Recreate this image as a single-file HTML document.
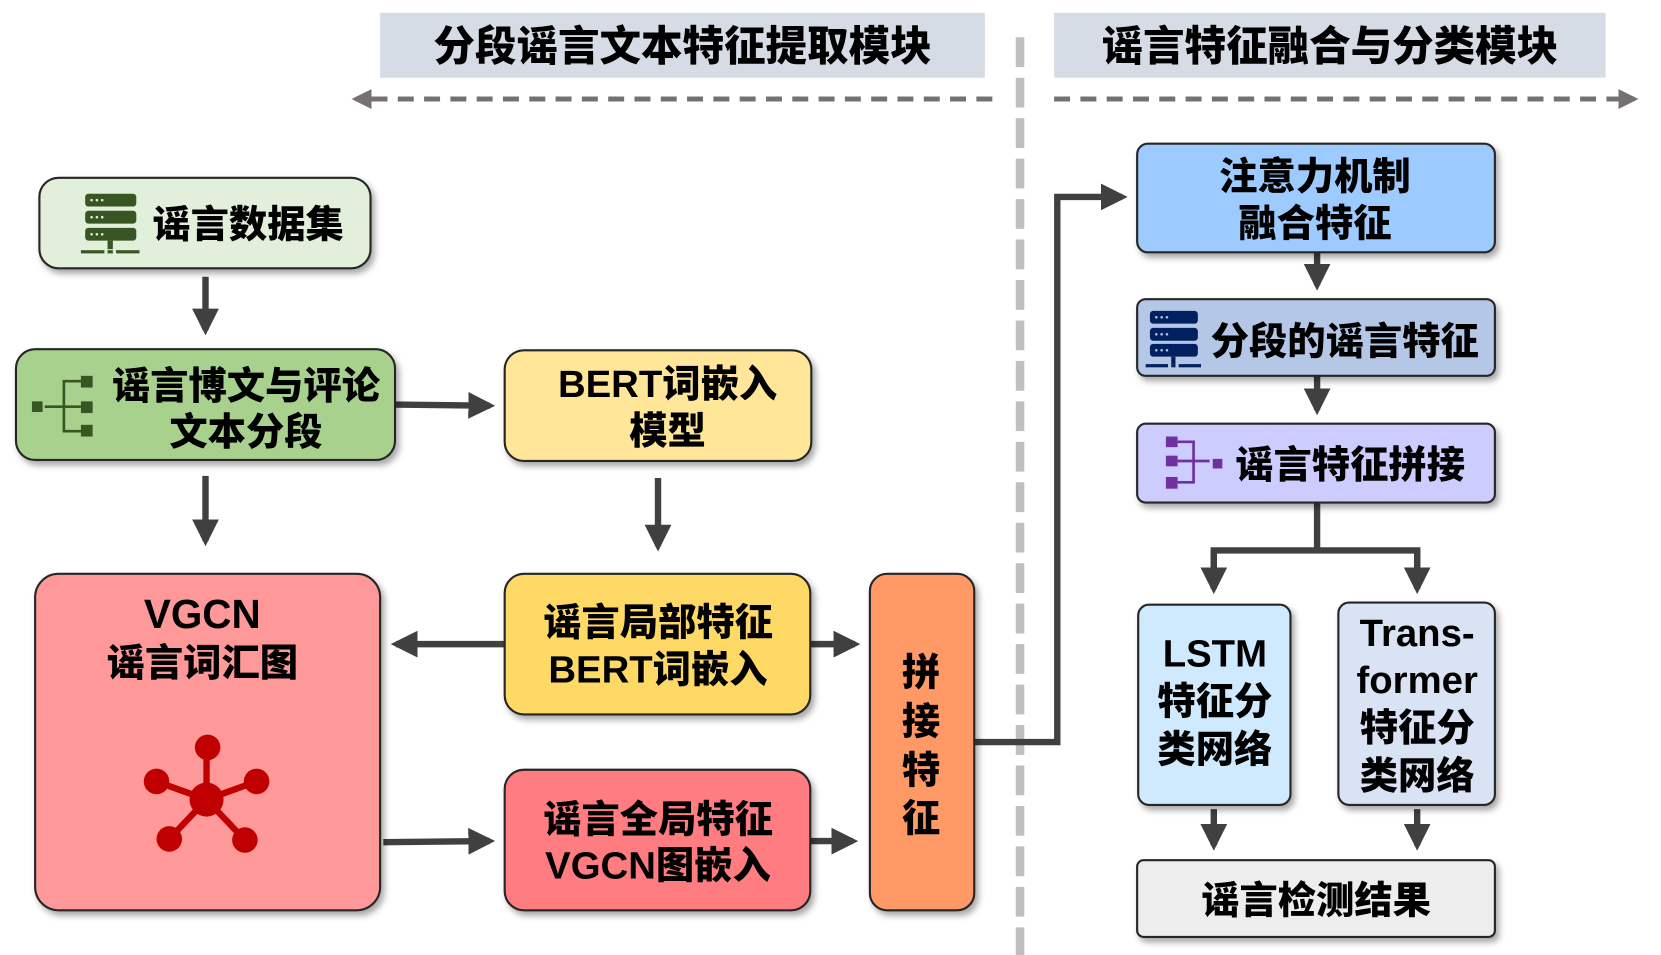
<!DOCTYPE html>
<html><head><meta charset="utf-8">
<style>
html,body{margin:0;padding:0;background:#fff;}
svg{display:block;}
text{font-family:"Liberation Sans","Noto Sans CJK SC",sans-serif;font-weight:900;fill:#000;}
</style></head>
<body>
<svg width="1661" height="955" viewBox="0 0 1560 897" preserveAspectRatio="none" xmlns="http://www.w3.org/2000/svg">
<defs>
<filter id="sh" x="-10%" y="-10%" width="130%" height="130%">
<feDropShadow dx="3" dy="4" stdDeviation="3" flood-color="#000" flood-opacity="0.35"/>
</filter>
<marker id="ah" viewBox="0 0 10 10" refX="8" refY="5" markerWidth="4.2" markerHeight="4.2" orient="auto" markerUnits="strokeWidth">
<path d="M0,0 L10,5 L0,10 z" fill="#404040"/>
</marker>
<marker id="ahg" viewBox="0 0 10 10" refX="8" refY="5" markerWidth="4" markerHeight="4" orient="auto" markerUnits="strokeWidth">
<path d="M0,0 L10,5 L0,10 z" fill="#767171"/>
</marker>
</defs>

<rect x="357" y="12" width="568" height="61" fill="#d6dce5"/>
<text x="641" y="57" font-size="39" text-anchor="middle">分段谣言文本特征提取模块</text>
<rect x="990" y="12" width="518" height="61" fill="#d6dce5"/>
<text x="1249" y="57" font-size="39" text-anchor="middle">谣言特征融合与分类模块</text>

<line x1="932" y1="93" x2="334" y2="93" stroke="#767171" stroke-width="4.7" stroke-dasharray="15 9.7" marker-end="url(#ahg)"/>
<line x1="990" y1="93" x2="1535" y2="93" stroke="#767171" stroke-width="4.7" stroke-dasharray="15 9.7" marker-end="url(#ahg)"/>
<line x1="958" y1="35" x2="958" y2="897" stroke="#bfbfbf" stroke-width="8" stroke-dasharray="28 10"/>

<g stroke="#404040" stroke-width="6" fill="none">
<line x1="193" y1="260" x2="193" y2="310" marker-end="url(#ah)"/>
<line x1="371" y1="380" x2="460" y2="381" marker-end="url(#ah)"/>
<line x1="193" y1="447" x2="193" y2="508" marker-end="url(#ah)"/>
<line x1="618" y1="449" x2="618" y2="513" marker-end="url(#ah)"/>
<line x1="474" y1="605" x2="372" y2="605" marker-end="url(#ah)"/>
<line x1="761" y1="605" x2="803" y2="605" marker-end="url(#ah)"/>
<line x1="360" y1="791" x2="460" y2="790" marker-end="url(#ah)"/>
<line x1="761" y1="790" x2="801" y2="790" marker-end="url(#ah)"/>
<polyline points="915,697 993,697 993,185 1054,185" marker-end="url(#ah)"/>
<line x1="1237" y1="237" x2="1237" y2="268" marker-end="url(#ah)"/>
<line x1="1237" y1="353" x2="1237" y2="385" marker-end="url(#ah)"/>
<polyline points="1237,472 1237,517"/>
<polyline points="1140,553 1140,517 1331,517 1331,553"/>
<line x1="1140" y1="517" x2="1140" y2="553" marker-end="url(#ah)"/>
<line x1="1331" y1="517" x2="1331" y2="553" marker-end="url(#ah)"/>
<line x1="1140" y1="760" x2="1140" y2="794" marker-end="url(#ah)"/>
<line x1="1331" y1="760" x2="1331" y2="794" marker-end="url(#ah)"/>
</g>

<g stroke="#262626" stroke-width="2" filter="url(#sh)">
<rect x="37" y="167" width="311" height="85" rx="18" fill="#e2efda"/>
<rect x="15" y="328" width="356" height="104" rx="18" fill="#a9d18e"/>
<rect x="474" y="329" width="288" height="104" rx="18" fill="#ffe699"/>
<rect x="33" y="539" width="324" height="316" rx="22" fill="#ff9999"/>
<rect x="474" y="539" width="287" height="132" rx="18" fill="#ffd966"/>
<rect x="474" y="723" width="287" height="132" rx="18" fill="#ff7c80"/>
<rect x="817" y="539" width="98" height="316" rx="16" fill="#ff9966"/>
<rect x="1068" y="135" width="336" height="102" rx="10" fill="#9dcbff"/>
<rect x="1068" y="281" width="336" height="72" rx="8" fill="#b4c7e7"/>
<rect x="1068" y="398" width="336" height="74" rx="8" fill="#ccccff"/>
<rect x="1069" y="568" width="143" height="188" rx="10" fill="#cfeaff"/>
<rect x="1257" y="566" width="147" height="190" rx="10" fill="#dae3f3"/>
<rect x="1068" y="808" width="336" height="72" rx="6" fill="#ededed"/>
</g>

<g fill="#375623">
<rect x="80" y="182" width="48" height="12" rx="3"/>
<rect x="80" y="198" width="48" height="12" rx="3"/>
<rect x="80" y="214" width="48" height="12" rx="3"/>
<rect x="101" y="226" width="5" height="8"/>
<rect x="76" y="235" width="22" height="3"/>
<rect x="101" y="235" width="5" height="3"/>
<rect x="109" y="235" width="22" height="3"/>
</g>
<g fill="#e2efda"><circle cx="86" cy="188" r="1.2"/><circle cx="91" cy="188" r="1.2"/><circle cx="96" cy="188" r="1.2"/>
<circle cx="86" cy="204" r="1.2"/><circle cx="91" cy="204" r="1.2"/><circle cx="96" cy="204" r="1.2"/>
<circle cx="86" cy="220" r="1.2"/><circle cx="91" cy="220" r="1.2"/><circle cx="96" cy="220" r="1.2"/></g>
<text x="233" y="223" font-size="36" text-anchor="middle">谣言数据集</text>

<g fill="#375623">
<rect x="30" y="377" width="10" height="10"/>
<rect x="76" y="353" width="11" height="11"/>
<rect x="76" y="377" width="11" height="11"/>
<rect x="76" y="399" width="11" height="11"/>
</g>
<g stroke="#375623" stroke-width="2.5" fill="none">
<polyline points="76,358 60,358 60,405 76,405"/>
<line x1="42" y1="382" x2="76" y2="382"/>
</g>
<text x="231" y="375" font-size="36" text-anchor="middle">谣言博文与评论</text>
<text x="231" y="418" font-size="36" text-anchor="middle">文本分段</text>

<text x="627" y="373" font-size="36" text-anchor="middle">BERT词嵌入</text>
<text x="627" y="417" font-size="36" text-anchor="middle">模型</text>

<text x="190" y="590" font-size="38" text-anchor="middle">VGCN</text>
<text x="190" y="635" font-size="36" text-anchor="middle">谣言词汇图</text>
<g stroke="#c00000" stroke-width="6">
<line x1="194" y1="751" x2="194" y2="702"/>
<line x1="194" y1="751" x2="147" y2="734"/>
<line x1="194" y1="751" x2="241" y2="734"/>
<line x1="194" y1="751" x2="159" y2="788"/>
<line x1="194" y1="751" x2="230" y2="789"/>
</g>
<g fill="#c00000">
<circle cx="194" cy="751" r="16"/>
<circle cx="195" cy="702" r="12"/>
<circle cx="147" cy="734" r="12"/>
<circle cx="241" cy="734" r="12"/>
<circle cx="159" cy="788" r="12"/>
<circle cx="230" cy="789" r="12"/>
</g>

<text x="618" y="597" font-size="36" text-anchor="middle">谣言局部特征</text>
<text x="618" y="641" font-size="36" text-anchor="middle">BERT词嵌入</text>
<text x="618" y="782" font-size="36" text-anchor="middle">谣言全局特征</text>
<text x="618" y="825" font-size="36" text-anchor="middle">VGCN图嵌入</text>

<text x="865" y="644" font-size="36" text-anchor="middle">拼</text>
<text x="865" y="690" font-size="36" text-anchor="middle">接</text>
<text x="865" y="736" font-size="36" text-anchor="middle">特</text>
<text x="865" y="781" font-size="36" text-anchor="middle">征</text>

<text x="1235" y="178" font-size="36" text-anchor="middle">注意力机制</text>
<text x="1235" y="222" font-size="36" text-anchor="middle">融合特征</text>

<g fill="#002060">
<rect x="1080" y="292" width="45" height="12" rx="3"/>
<rect x="1080" y="308" width="45" height="12" rx="3"/>
<rect x="1080" y="323" width="45" height="12" rx="3"/>
<rect x="1100" y="335" width="4" height="7"/>
<rect x="1076" y="342" width="21" height="3"/>
<rect x="1100" y="342" width="4" height="3"/>
<rect x="1107" y="342" width="21" height="3"/>
</g>
<g fill="#b4c7e7"><circle cx="1086" cy="298" r="1.2"/><circle cx="1091" cy="298" r="1.2"/><circle cx="1096" cy="298" r="1.2"/>
<circle cx="1086" cy="314" r="1.2"/><circle cx="1091" cy="314" r="1.2"/><circle cx="1096" cy="314" r="1.2"/>
<circle cx="1086" cy="329" r="1.2"/><circle cx="1091" cy="329" r="1.2"/><circle cx="1096" cy="329" r="1.2"/></g>
<text x="1263" y="333" font-size="36" text-anchor="middle">分段的谣言特征</text>

<g fill="#7030a0">
<rect x="1095" y="410" width="11" height="10"/>
<rect x="1095" y="428" width="11" height="10"/>
<rect x="1095" y="448" width="11" height="11"/>
<rect x="1139" y="431" width="9" height="9"/>
</g>
<g stroke="#7030a0" stroke-width="2.5" fill="none">
<polyline points="1106,415 1121,415 1121,453 1106,453"/>
<line x1="1106" y1="433" x2="1136" y2="433"/>
</g>
<text x="1268" y="449" font-size="36" text-anchor="middle">谣言特征拼接</text>

<text x="1141" y="626" font-size="36" text-anchor="middle">LSTM</text>
<text x="1141" y="671" font-size="36" text-anchor="middle">特征分</text>
<text x="1141" y="716" font-size="36" text-anchor="middle">类网络</text>
<text x="1331" y="607" font-size="36" text-anchor="middle">Trans-</text>
<text x="1331" y="651" font-size="36" text-anchor="middle">former</text>
<text x="1331" y="696" font-size="36" text-anchor="middle">特征分</text>
<text x="1331" y="741" font-size="36" text-anchor="middle">类网络</text>

<text x="1236" y="858" font-size="36" text-anchor="middle">谣言检测结果</text>
</svg>
</body></html>
